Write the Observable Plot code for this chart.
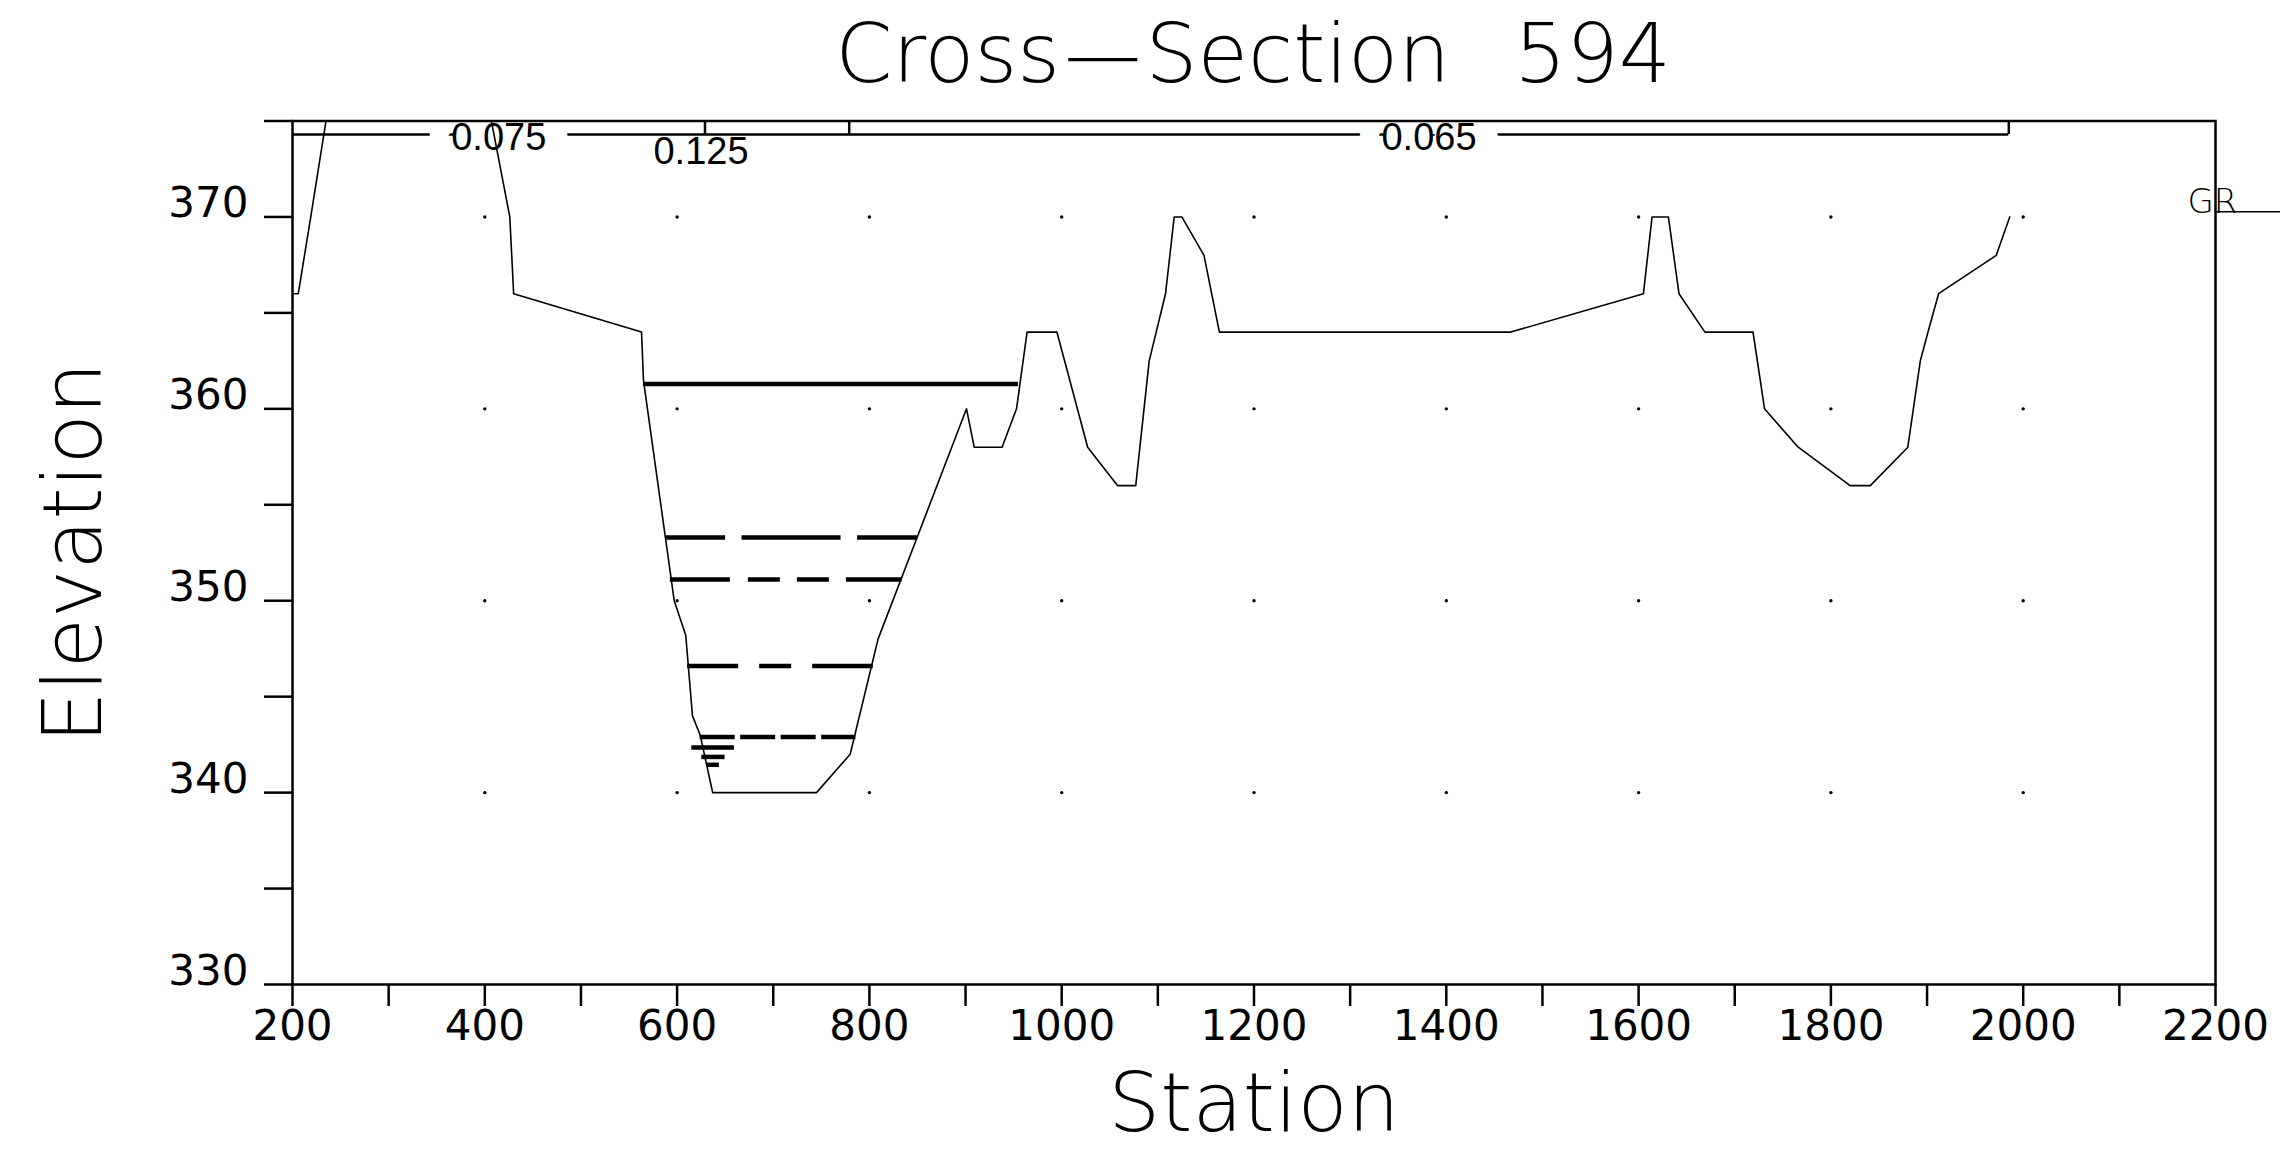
<!DOCTYPE html>
<html>
<head>
<meta charset="utf-8">
<script src="https://cdn.jsdelivr.net/npm/d3@7"></script>
<script src="https://cdn.jsdelivr.net/npm/@observablehq/plot@0.6"></script>
<style>
html, body { margin: 0; padding: 0; background: #fff; }
#title {
  height: 95px; width: 2280px; box-sizing: border-box;
  padding-top: 13px; padding-left: 226px;
  text-align: center; white-space: nowrap; color: #000;
  font-family: "DejaVu Sans", sans-serif; font-weight: 200;
  font-size: 82px; line-height: 82px; word-spacing: 38px;
}
#title .dash { display: inline-block; margin: 0 28px; transform: scaleX(3.2); }
</style>
</head>
<body>
<div id="title">Cross<span class="dash">-</span>Section 594</div>
<div id="chart"></div>
<script>
// ---- data ----
const groundStation = [200,206,219,238,403,426,430,563,565,597,609,616,624,637,745,780,809,901,909,938,953,964,995,1027,1058,1077,1091,1108,1117,1125,1148,1164,1467,1605,1614,1631,1642,1669,1719,1731,1766,1820,1841,1880,1893,1901,1912,1972,1986];
const groundElev    = [366,366,370,376,376,370,366,364,361.5,350,348.2,344,343,340,340,342,348,360,358,358,360,364,364,358,356,356,362.5,366,370,370,368,364,364,366,370,370,366,364,364,360,358,356,356,358,362.5,364,366,368,370];

const wsElev  = [361.3, 353.3, 351.1, 346.6, 342.9];
const wsLeft  = [565, 588, 593, 611, 624];
const wsRight = [955, 850, 834, 804, 786];

const markerLeft  = [615.3, 625.7, 631.2];
const markerRight = [659.6, 649.9, 644.0];
const markerElev  = [342.35, 341.86, 341.45];

const nBounds = [200, 629, 779, 1985];
const nValues = ["0.075", "0.125", "0.065"];
const nLineElev = 374.3;

const xTicks = [200,300,400,500,600,700,800,900,1000,1100,1200,1300,1400,1500,1600,1700,1800,1900,2000,2100,2200];
const xTickLabels = [200,400,600,800,1000,1200,1400,1600,1800,2000,2200];
const yTicks = [330,335,340,345,350,355,360,365,370,375];
const yTickLabels = [330,340,350,360,370];
const gridStations = [400,600,800,1000,1200,1400,1600,1800,2000];
const gridElevs = [340,350,360,370];

// ---- tables built from the arrays ----
const ground = groundStation.map((s, i) => ({station: s, elev: groundElev[i]}));
const ws = wsElev.map((e, i) => ({elev: e, left: wsLeft[i], right: wsRight[i]}));
const marker = markerElev.map((e, i) => ({elev: e, left: markerLeft[i], right: markerRight[i]}));
const grid = gridStations.flatMap(s => gridElevs.map(e => ({station: s, elev: e})));
const nSegs = nValues.map((v, i) => ({v, a: nBounds[i], b: nBounds[i + 1]}));
const nLine = [{a: nBounds[0], b: nBounds[nBounds.length - 1], elev: nLineElev}];
const nTicks = nBounds.slice(1).map(s => ({s, lo: nLineElev, hi: 375}));

// ---- styles ----
const wsStyles = [
  {dash: null, off: 0},
  {dash: "99,16.5", off: 39},
  {dash: "60,18,32,17,32,17", off: 0},
  {dash: "61,21,32,21", off: 10},
  {dash: "35,5.5", off: 0}
];
const plotFont = "DejaVu Sans";

const marks = [];
marks.push(Plot.dot(grid, {x: "station", y: "elev", r: 1.7, fill: "black", stroke: null}));
marks.push(Plot.ruleY(nLine, {y: "elev", x1: "a", x2: "b", stroke: "black", strokeWidth: 2.5}));
marks.push(Plot.ruleX(nTicks, {x: "s", y1: "lo", y2: "hi", stroke: "black", strokeWidth: 2.5}));
marks.push(Plot.text(nSegs.filter(d => d.b - d.a >= 200), {
  x: d => (d.a + d.b) / 2, y: () => nLineElev, text: "v",
  fontFamily: "Liberation Sans", fontSize: 38, fontWeight: "normal",
  lineAnchor: "middle", dy: 3, fill: "black",
  stroke: "white", strokeWidth: 46, strokeLinejoin: "round", paintOrder: "stroke"
}));
marks.push(Plot.text(nSegs.filter(d => d.b - d.a < 200), {
  x: "a", y: () => nLineElev, text: "v",
  fontFamily: "Liberation Sans", fontSize: 38, fontWeight: "normal",
  lineAnchor: "top", dy: 3, dx: -4, fill: "black"
}));
marks.push(Plot.line(ground, {x: "station", y: "elev", stroke: "black", strokeWidth: 1.6, clip: true}));
ws.forEach((d, i) => {
  marks.push(Plot.ruleY([d], {
    y: "elev", x1: "left", x2: "right", stroke: "black", strokeWidth: 4.5,
    strokeDasharray: wsStyles[i].dash || undefined, strokeDashoffset: wsStyles[i].off
  }));
});
marks.push(Plot.ruleY(marker, {y: "elev", x1: "left", x2: "right", stroke: "black", strokeWidth: 4.5}));
marks.push(Plot.frame({stroke: "black", strokeWidth: 2.5}));
marks.push(Plot.axisX({
  ticks: xTicks, tickSize: 22, tickPadding: 4, strokeWidth: 2.5,
  tickFormat: d => xTickLabels.includes(d) ? String(d) : "",
  fontSize: 42, fontFamily: plotFont, label: null
}));
marks.push(Plot.axisY({ticks: yTicks, tickSize: 28, strokeWidth: 2.5, fill: "none", label: null}));
marks.push(Plot.axisY({
  ticks: yTickLabels, tickSize: 0, tickPadding: 44, dy: -13,
  tickFormat: d => String(d), fontSize: 42, fontFamily: plotFont, label: null
}));
marks.push(Plot.text(["Station"], {
  frameAnchor: "bottom", lineAnchor: "bottom", dy: 146,
  fontSize: 82, fontFamily: plotFont, fontWeight: 200, fill: "black"
}));
marks.push(Plot.text(["Elevation"], {
  frameAnchor: "left", rotate: -90, lineAnchor: "bottom", textAnchor: "middle", dx: -192,
  fontSize: 82, fontFamily: plotFont, fontWeight: 200, fill: "black"
}));
marks.push(Plot.text(["GR"], {
  frameAnchor: "top-right", textAnchor: "start", lineAnchor: "bottom", dx: -28, dy: 91.5,
  fontSize: 34, fontFamily: plotFont, fontWeight: 200, fill: "black"
}));
marks.push((index, scales, values, dims) => {
  const g = d3.create("svg:g");
  g.append("line")
    .attr("x1", dims.width - dims.marginRight).attr("x2", dims.width)
    .attr("y1", dims.marginTop + 91.2).attr("y2", dims.marginTop + 91.2)
    .attr("stroke", "black").attr("stroke-width", 1.6);
  return g.node();
});

const chart = Plot.plot({
  width: 2280, height: 1054,
  marginTop: 25.5, marginBottom: 165, marginLeft: 292, marginRight: 65,
  x: {domain: [200, 2200]},
  y: {domain: [330, 375]},
  style: {background: "white", color: "black", fontFamily: plotFont, overflow: "visible"},
  marks
});
document.getElementById("chart").appendChild(chart);
</script>
</body>
</html>
